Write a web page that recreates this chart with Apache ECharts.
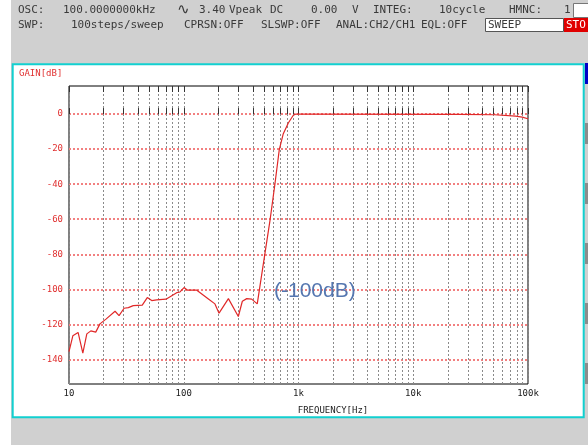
<!DOCTYPE html>
<html>
<head>
<meta charset="utf-8">
<script src="https://cdn.jsdelivr.net/npm/echarts@6/dist/echarts.min.js"></script>
<style>
  html, body { margin: 0; padding: 0; background: #fff; }
  #chart { width: 588px; height: 445px; }
</style>
</head>
<body>
<div id="chart"></div>
<script>
// Measured gain response (CH2/CH1), frequency in Hz, gain in dB
const freqHz = [10, 10.8, 12.0, 13.2, 14.3, 15.5, 17.1, 18.6, 21.0, 25.2, 27.3, 30.2, 32.9, 36.3,
  43.5, 48.1, 52.6, 58.1, 70.0, 86.8, 92.8, 100.5, 108, 130, 164, 187, 203, 245, 299, 324, 354,
  391, 437, 510, 565, 624, 680, 737, 815, 901, 950, 24500, 51000, 53000, 78000, 80000, 89000,
  91000, 100000];
const gainDb = [-135.5, -126.5, -124.6, -136.4, -125.4, -123.7, -124.4, -119.7, -117, -112.5,
  -115, -110.8, -110.4, -109.3, -109, -104.7, -106.4, -106, -105.6, -101.9, -101.5, -99, -100.5,
  -100.5, -105.5, -108.3, -113.6, -105.3, -115.5, -106.8, -105.3, -105.6, -108.3, -79.5, -60.5,
  -39.6, -20.3, -11.2, -5.1, -0.7, 0, -0.2, -0.4, -1.1, -1.2, -1.7, -1.8, -2.6, -2.7];

// Axis ticks and labels
const gainTicks = [0, -20, -40, -60, -80, -100, -120, -140];
const freqMajor = [10, 100, 1000, 10000, 100000];
const freqLabels = ['10', '100', '1k', '10k', '100k'];
const freqGrid = [10, 20, 30, 40, 50, 60, 70, 80, 90,
  100, 200, 300, 400, 500, 600, 700, 800, 900,
  1000, 2000, 3000, 4000, 5000, 6000, 7000, 8000, 9000,
  10000, 20000, 30000, 40000, 50000, 60000, 70000, 80000, 90000, 100000];

const MONO = 'DejaVu Sans Mono';
const HEAD = '#3a3a3a';

function freqLabel(v) {
  const r = Math.round(v);
  const i = freqMajor.indexOf(r);
  return i >= 0 ? freqLabels[i] : '';
}

function headText(x, y, s, fill) {
  return { type: 'text', x: x, y: y, silent: true, z: 5,
    style: { text: s, fill: fill || HEAD, font: '11px "' + MONO + '"', verticalAlign: 'middle' } };
}

const chart = echarts.init(document.getElementById('chart'), null, { renderer: 'canvas' });

const option = {
  animation: false,
  backgroundColor: '#d0d0d0',
  grid: { left: 69, right: 60, top: 86, bottom: 61, show: true,
    borderColor: '#000', borderWidth: 1, backgroundColor: '#fff' },
  xAxis: [
    {
      type: 'log', logBase: 10, min: 10, max: 100000,
      axisLine: { show: false },
      axisTick: { show: true, inside: true, length: 6, customValues: freqGrid,
        lineStyle: { color: '#333', width: 1 } },
      axisLabel: { customValues: freqMajor, formatter: freqLabel, color: '#222',
        fontFamily: MONO, fontSize: 9, margin: 5 },
      splitLine: { show: true, lineStyle: { color: '#8a8a8a', type: [2, 2], width: 1 } },
      minorTick: { show: false }
    },
    {
      type: 'log', logBase: 10, min: 10, max: 100000, position: 'top',
      axisLine: { show: false },
      axisTick: { show: true, inside: true, length: 6, customValues: freqGrid,
        lineStyle: { color: '#333', width: 1 } },
      axisLabel: { show: false },
      splitLine: { show: false }
    }
  ],
  yAxis: {
    type: 'value', min: -154, max: 16,
    axisLine: { show: false },
    axisTick: { show: false, customValues: gainTicks },
    axisLabel: { customValues: gainTicks, color: '#e03030', fontFamily: MONO, fontSize: 9, margin: 6 },
    splitLine: { show: true, lineStyle: { color: '#f28080', type: [2, 2], width: 2 } }
  },
  series: [{
    type: 'line',
    xAxisIndex: 0,
    data: freqHz.map((f, i) => [f, gainDb[i]]),
    showSymbol: false,
    lineStyle: { color: '#e02828', width: 1.2 },
    z: 5
  }],
  graphic: [
    // page strip, panel frame and side controls
    { type: 'rect', silent: true, z: -10, shape: { x: 0, y: 0, width: 11, height: 445 }, style: { fill: '#fff' } },
    { type: 'rect', silent: true, z: -10, shape: { x: 12.7, y: 64.3, width: 571, height: 353 },
      style: { fill: '#fff', stroke: '#12d0d0', lineWidth: 2 } },
    { type: 'rect', silent: true, z: -10, shape: { x: 585, y: 63, width: 3, height: 21 }, style: { fill: '#0000c8' } },
    { type: 'rect', silent: true, z: -10, shape: { x: 585, y: 123, width: 3, height: 21 }, style: { fill: '#8c8c8c' } },
    { type: 'rect', silent: true, z: -10, shape: { x: 585, y: 183, width: 3, height: 21 }, style: { fill: '#8c8c8c' } },
    { type: 'rect', silent: true, z: -10, shape: { x: 585, y: 243, width: 3, height: 21 }, style: { fill: '#8c8c8c' } },
    { type: 'rect', silent: true, z: -10, shape: { x: 585, y: 303, width: 3, height: 21 }, style: { fill: '#8c8c8c' } },
    { type: 'rect', silent: true, z: -10, shape: { x: 585, y: 363, width: 3, height: 21 }, style: { fill: '#8c8c8c' } },

    // status header
    headText(18, 10, 'OSC:'),
    headText(63, 10, '100.0000000kHz'),
    { type: 'text', x: 177, y: 10, silent: true, z: 5,
      style: { text: '\u223F', fill: HEAD, font: '15px "DejaVu Sans"', verticalAlign: 'middle' } },
    headText(199, 10, '3.40'),
    headText(229, 10, 'Vpeak'),
    headText(270, 10, 'DC'),
    headText(311, 10, '0.00'),
    headText(352, 10, 'V'),
    headText(373, 10, 'INTEG:'),
    headText(439, 10, '10cycle'),
    headText(509, 10, 'HMNC:'),
    headText(564, 10, '1'),
    { type: 'rect', silent: true, z: 4, shape: { x: 573.5, y: 3.5, width: 16, height: 14 },
      style: { fill: '#fff', stroke: '#777', lineWidth: 1 } },
    headText(18, 25, 'SWP:'),
    headText(71, 25, '100steps/sweep'),
    headText(184, 25, 'CPRSN:OFF'),
    headText(261, 25, 'SLSWP:OFF'),
    headText(336, 25, 'ANAL:CH2/CH1'),
    headText(421, 25, 'EQL:OFF'),
    { type: 'rect', silent: true, z: 4, shape: { x: 485.5, y: 18.5, width: 78, height: 13 },
      style: { fill: '#fff', stroke: '#555', lineWidth: 1 } },
    headText(488, 25, 'SWEEP'),
    { type: 'rect', silent: true, z: 4, shape: { x: 564, y: 18, width: 24, height: 14 }, style: { fill: '#e00000' } },
    headText(566, 25, 'STO', '#fff'),

    // axis titles
    { type: 'text', x: 19, y: 74, silent: true, z: 5,
      style: { text: 'GAIN[dB]', fill: '#e03030', font: '9px "' + MONO + '"', verticalAlign: 'middle' } },
    { type: 'text', x: 333, y: 411, silent: true, z: 5,
      style: { text: 'FREQUENCY[Hz]', fill: '#222', font: '9px "' + MONO + '"', align: 'center', verticalAlign: 'middle' } },

    // noise floor note
    { type: 'text', x: 274, y: 291, silent: true, z: 5,
      style: { text: '(-100dB)', fill: '#5577b0', font: '21px "Liberation Sans"', verticalAlign: 'middle' } }
  ]
};

chart.setOption(option);
</script>
</body>
</html>
